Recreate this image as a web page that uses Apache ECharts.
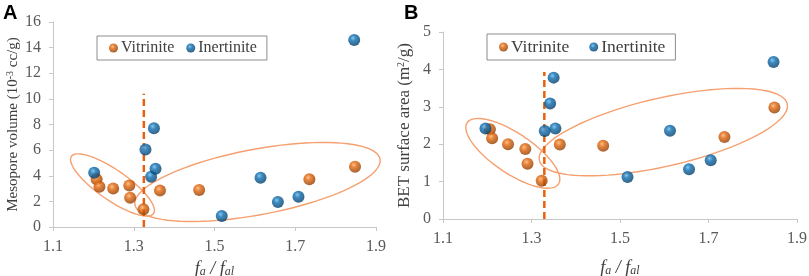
<!DOCTYPE html>
<html>
<head>
<meta charset="utf-8">
<script src="https://cdn.jsdelivr.net/npm/echarts@6/dist/echarts.min.js"></script>
<style>
  html, body { margin: 0; padding: 0; background: #fff; }
  #chart { width: 809px; height: 276px; }
</style>
</head>
<body>
<div id="chart"></div>
<script>
// panel A: mesopore volume, panel B: BET surface area, x = fa/fal
const vitA = [[1.208,3.72],[1.215,3.15],[1.249,3.0],[1.289,3.23],[1.291,2.29],[1.324,1.38],[1.365,2.84],[1.462,2.89],[1.735,3.72],[1.848,4.71]];
const inerA = [[1.202,4.24],[1.329,6.04],[1.350,7.71],[1.343,3.93],[1.354,4.55],[1.518,0.86],[1.614,3.85],[1.657,1.95],[1.708,2.37],[1.846,14.6]];
const vitB = [[1.206,2.40],[1.211,2.16],[1.247,2.0],[1.286,1.87],[1.291,1.48],[1.323,1.02],[1.364,1.99],[1.462,1.96],[1.736,2.19],[1.849,2.98]];
const inerB = [[1.196,2.42],[1.330,2.35],[1.342,3.09],[1.350,3.78],[1.354,2.42],[1.517,1.12],[1.613,2.36],[1.656,1.33],[1.705,1.57],[1.847,4.20]];
// dashed divider
const dashA = [[1.325,0],[1.325,10.4]];
const dashB = [[1.329,0],[1.329,3.93]];
// ellipses: major axis ends (x1,y1,x2,y2) and minor/major ratio
const ellA = [[1.1456,5.51,1.349,1.05,0.30],[1.303,1.73,1.910,5.30,0.263]];
const ellB = [[1.1546,2.575,1.361,0.935,0.364],[1.3178,1.567,1.878,3.079,0.269]];
const xTicks = [1.1, 1.3, 1.5, 1.7, 1.9];

const serif = 'Liberation Serif';
const orange = '#e2650a', blue = '#0b6cb0';

function ball(c, light, dark) {
  return {
    type: 'radial', x: 0.4, y: 0.35, r: 0.68,
    colorStops: [{offset: 0, color: light}, {offset: 0.35, color: c}, {offset: 1, color: dark}]
  };
}
const orangeBall = ball(orange, '#fbb070', '#8a3a00');
const blueBall = ball(blue, '#6ab8ea', '#033a63');

function ellipseItem(params, api) {
  const p1 = api.coord([api.value(0), api.value(1)]);
  const p2 = api.coord([api.value(2), api.value(3)]);
  const cx = (p1[0] + p2[0]) / 2, cy = (p1[1] + p2[1]) / 2;
  const dx = p2[0] - p1[0], dy = p2[1] - p1[1];
  const a = Math.sqrt(dx * dx + dy * dy) / 2;
  const b = a * api.value(4);
  const th = Math.atan2(dy, dx);
  const pts = [];
  for (let i = 0; i < 90; i++) {
    const t = i / 90 * Math.PI * 2;
    const ex = a * Math.cos(t), ey = b * Math.sin(t);
    pts.push([cx + ex * Math.cos(th) - ey * Math.sin(th), cy + ex * Math.sin(th) + ey * Math.cos(th)]);
  }
  return {type: 'polygon', shape: {points: pts}, style: {fill: 'none', stroke: '#f5a070', lineWidth: 1.4}};
}

function xAxis(idx, gap) {
  return {
    type: 'value', gridIndex: idx, min: 1.1, max: 1.9, interval: 0.2,
    axisLine: {lineStyle: {color: '#c8c8c8'}},
    axisTick: {show: true, length: 4, lineStyle: {color: '#c8c8c8'}},
    splitLine: {show: false},
    axisLabel: {
      fontFamily: serif, fontSize: 16, color: '#595959', margin: 12,
      formatter: v => xTicks.indexOf(Math.round(v * 10) / 10) >= 0 ? v.toFixed(1) : ''
    },
    name: '{i|f}{s|a}{i| / f}{s|al}', nameLocation: 'middle', nameGap: gap,
    nameTextStyle: {
      rich: {
        i: {fontFamily: serif, fontStyle: 'italic', fontSize: 18, color: '#404040'},
        s: {fontFamily: serif, fontStyle: 'italic', fontSize: 12, color: '#404040', verticalAlign: 'bottom', padding: [6, 0, 0, 0]}
      }
    }
  };
}
function yAxis(idx, max, interval, name, gap, fs) {
  return {
    type: 'value', gridIndex: idx, min: 0, max: max, interval: interval,
    axisLine: {show: true, lineStyle: {color: '#c8c8c8'}},
    axisTick: {show: true, length: 4, lineStyle: {color: '#c8c8c8'}},
    splitLine: {show: false},
    axisLabel: {fontFamily: serif, fontSize: 16, color: '#595959', margin: 12},
    name: name, nameLocation: 'middle', nameGap: gap,
    nameTextStyle: {
      rich: {
        n: {fontFamily: serif, fontSize: fs, color: '#404040'},
        u: {fontFamily: serif, fontSize: 10, color: '#404040', verticalAlign: 'top', padding: [0, 0, 6, 0]}
      }
    }
  };
}
function legend(left, top, fs, gap) {
  return {
    left: left, top: top, data: ['Vitrinite', 'Inertinite'],
    icon: 'circle', itemWidth: 9, itemHeight: 9, itemGap: gap,
    borderColor: '#8c8c8c', borderWidth: 1, padding: [4, 10, 4, 12], borderRadius: 0,
    textStyle: {fontFamily: serif, fontSize: fs, color: '#404040', padding: [0, 0, 0, -2]},
    selectedMode: false
  };
}
function scatter(name, data, idx, color) {
  return {
    name: name, type: 'scatter', xAxisIndex: idx, yAxisIndex: idx, data: data,
    symbolSize: 12, itemStyle: {color: color}, z: 5
  };
}

const chart = echarts.init(document.getElementById('chart'));
chart.setOption({
  animation: false,
  title: [
    {text: 'A', left: -2, top: -2, textStyle: {fontFamily: 'Liberation Sans', fontWeight: 'bold', fontSize: 20, color: '#000'}},
    {text: 'B', left: 399, top: -2, textStyle: {fontFamily: 'Liberation Sans', fontWeight: 'bold', fontSize: 20, color: '#000'}}
  ],
  grid: [
    {left: 53, right: 433, top: 22, bottom: 49, outerBoundsMode: 'none', containLabel: false},
    {left: 443, right: 12, top: 32, bottom: 57, outerBoundsMode: 'none', containLabel: false}
  ],
  legend: [legend(97, 36, 16, 12), legend(487, 34, 17.5, 20)],
  xAxis: [xAxis(0, 33), xAxis(1, 40)],
  yAxis: [
    yAxis(0, 16, 2, '{n|Mesopore volume (10}{u|-3}{n| cc/g)}', 32, 15),
    yAxis(1, 5, 1, '{n|BET surface area (m}{u|2}{n|/g)}', 30, 17)
  ],
  series: [
    {type: 'custom', xAxisIndex: 0, yAxisIndex: 0, renderItem: ellipseItem, data: ellA, clip: false, z: 2, silent: true},
    {type: 'custom', xAxisIndex: 1, yAxisIndex: 1, renderItem: ellipseItem, data: ellB, clip: false, z: 2, silent: true},
    {type: 'line', xAxisIndex: 0, yAxisIndex: 0, data: dashA, symbol: 'none', lineStyle: {color: '#e8600e', width: 2.5, type: [7, 4]}, z: 3},
    {type: 'line', xAxisIndex: 1, yAxisIndex: 1, data: dashB, symbol: 'none', lineStyle: {color: '#e8600e', width: 2.5, type: [7, 4]}, z: 3},
    scatter('Vitrinite', vitA, 0, orangeBall),
    scatter('Inertinite', inerA, 0, blueBall),
    scatter('Vitrinite', vitB, 1, orangeBall),
    scatter('Inertinite', inerB, 1, blueBall)
  ]
});
</script>
</body>
</html>
